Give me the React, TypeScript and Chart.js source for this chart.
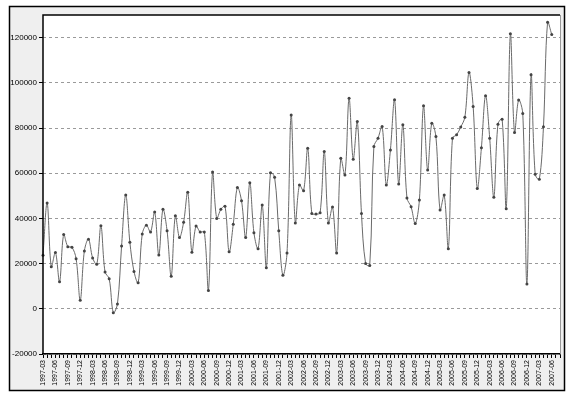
import React, { useEffect, useRef } from 'react';
import { Chart, registerables } from 'chart.js';

Chart.register(...registerables);

const W = 573;
const H = 397;

const startYear = 1997;
const startMonth = 3;
const monthCount = 126; // 1997-03 .. 2007-08

const categories: string[] = [];
for (let k = 0; k < monthCount; k++) {
  const m = startMonth - 1 + k;
  const y = startYear + Math.floor(m / 12);
  const mm = (m % 12) + 1;
  categories.push(`${y}-${mm < 10 ? '0' + mm : mm}`);
}

const seriesValues: (number | null)[] = [
  23700, 46800, 18600, 24900, 12000, 32900, 27500, 27200, 22200, 3800,
  25600, 30800, 22500, 19700, 36700, 16300, 13300, -1700, 2100, 27800,
  50400, 29500, 16500, 11500, 33100, 37000, 34000, 42800, 23800, 44000,
  34500, 14400, 41200, 31600, 38300, 51600, 25000, 36600, 34000, 34000,
  8100, 60500, 40000, 44000, 45400, 25200, 37400, 53700, 47800, 31500,
  55800, 33600, 26600, 45900, 18200, 60200, 58200, 34500, 14800, 24700,
  85800, 38000, 54800, 52200, 71000, 42200, 41900, 42500, 69600, 38000,
  45000, 24700, 66600, 59200, 93200, 66200, 82900, 42200, 20000, 19200,
  71800, 75500, 80700, 54800, 70300, 92500, 55200, 81400, 49000, 45100,
  37700, 48100, 89800, 61400, 82100, 76200, 43700, 50300, 26600, 75500,
  77000, 80400, 84800, 104600, 89500, 53200, 71300, 94300, 75500, 49400,
  81700, 83900, 44300, 121700, 78000, 92400, 86400, 11000, 103600, 59500,
  57300, 80500, 126800, 121400, null, null,
];

const yTicks = [-20000, 0, 20000, 40000, 60000, 80000, 100000, 120000];
const yMin = -20000;
const yMax = 130000;

const framePlugin = {
  id: 'frame',
  beforeDraw(chart: any) {
    const { ctx, chartArea } = chart;
    ctx.save();
    ctx.fillStyle = '#ffffff';
    ctx.fillRect(0, 0, W, H);
    ctx.fillStyle = '#efefef';
    ctx.fillRect(9, 6, 556, 385);
    ctx.strokeStyle = '#000000';
    ctx.lineWidth = 1.5;
    ctx.strokeRect(9.5, 6.5, 555, 384);
    ctx.fillStyle = '#ffffff';
    ctx.fillRect(chartArea.left, chartArea.top, chartArea.right - chartArea.left, chartArea.bottom - chartArea.top);
    ctx.restore();
  },
  afterDraw(chart: any) {
    const { ctx, chartArea } = chart;
    ctx.save();
    ctx.strokeStyle = '#000000';
    ctx.lineWidth = 1.5;
    ctx.beginPath();
    ctx.moveTo(chartArea.left, chartArea.bottom);
    ctx.lineTo(chartArea.left, chartArea.top);
    ctx.lineTo(chartArea.right, chartArea.top);
    ctx.stroke();
    ctx.strokeStyle = '#999999';
    ctx.lineWidth = 1;
    ctx.beginPath();
    ctx.moveTo(chartArea.right + 0.5, chartArea.top);
    ctx.lineTo(chartArea.right + 0.5, chartArea.bottom);
    ctx.stroke();
    ctx.restore();
  },
};

export default function App() {
  const canvasRef = useRef<HTMLCanvasElement | null>(null);

  useEffect(() => {
    if (!canvasRef.current) return;
    const chart = new Chart(canvasRef.current, {
      type: 'line',
      data: {
        labels: categories,
        datasets: [
          {
            data: seriesValues,
            borderColor: '#6a6a6a',
            borderWidth: 1,
            tension: 0.35,
            pointRadius: 1.5,
            pointBackgroundColor: '#444444',
            pointBorderColor: '#444444',
            pointBorderWidth: 0,
            fill: false,
          },
        ],
      },
      options: {
        responsive: false,
        animation: false,
        events: [],
        layout: { padding: { left: 0, top: 15, right: 13, bottom: 0 } },
        plugins: {
          legend: { display: false },
          tooltip: { enabled: false },
          title: { display: false },
        },
        scales: {
          x: {
            type: 'category',
            offset: false,
            grid: {
              drawOnChartArea: false,
              drawTicks: true,
              tickLength: 4,
              color: '#000000',
            },
            border: { display: true, color: '#000000', width: 1.5 },
            ticks: {
              autoSkip: false,
              maxRotation: 90,
              minRotation: 90,
              padding: 2,
              color: '#000000',
              font: { family: 'Liberation Sans', size: 7 },
              callback: (_v: any, i: number) => (i % 3 === 0 ? categories[i] : ''),
            },
            afterFit: (s: any) => {
              s.height = 43;
            },
          },
          y: {
            type: 'linear',
            min: yMin,
            max: yMax,
            grid: {
              color: '#9a9a9a',
              lineWidth: 1,
              drawTicks: true,
              tickLength: 4,
              tickColor: '#000000',
            },
            border: { display: false, dash: [3, 3] },
            ticks: {
              padding: 2,
              color: '#000000',
              font: { family: 'Liberation Sans', size: 8 },
              callback: (v: any) => String(v),
            },
            afterBuildTicks: (s: any) => {
              s.ticks = yTicks.map((v) => ({ value: v }));
            },
            afterFit: (s: any) => {
              s.width = 43;
            },
          },
        },
      },
      plugins: [framePlugin],
    } as any);
    return () => chart.destroy();
  }, []);

  return (
    <div style={{ position: 'absolute', left: 0, top: 0, width: W, height: H, background: '#ffffff' }}>
      <canvas ref={canvasRef} width={W} height={H} style={{ width: W, height: H, display: 'block' }} />
    </div>
  );
}
